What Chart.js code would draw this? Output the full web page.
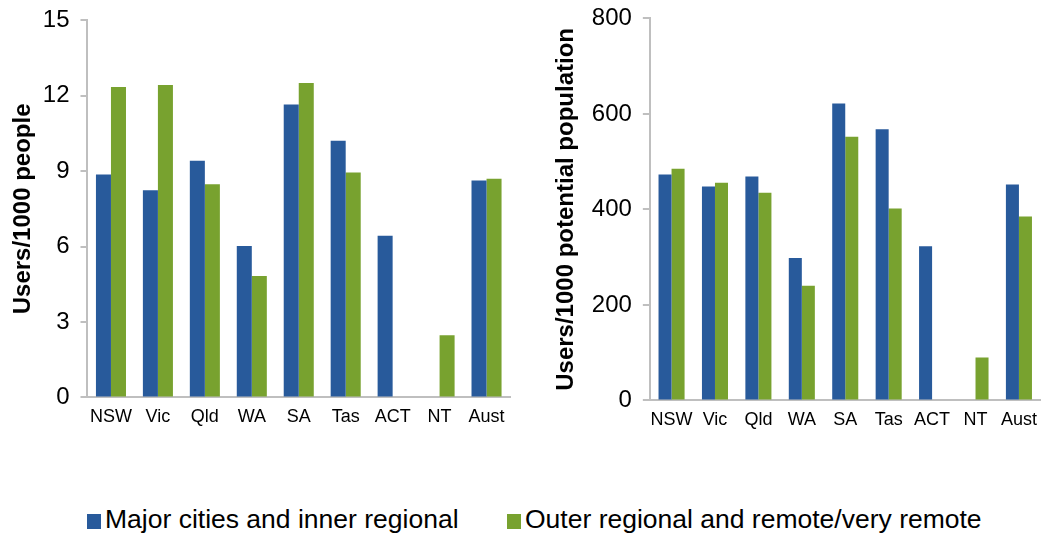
<!DOCTYPE html>
<html>
<head>
<meta charset="utf-8">
<script src="https://cdn.jsdelivr.net/npm/chart.js@4"></script>
<style>
  body { margin: 0; background: #fff; }
  #wrap { position: relative; width: 1046px; height: 535px; background: #fff; overflow: hidden; font-family: "Liberation Sans", Arial, sans-serif; }
  #leftBox { position: absolute; left: 0; top: -5px; width: 525px; height: 442px; }
  #rightBox { position: absolute; left: 530px; top: -7px; width: 516px; height: 447px; }
  .legend-item { position: absolute; top: 504px; font-size: 26.5px; color: #000; white-space: nowrap; line-height: 30px; }
  .legend-item span { display: inline-block; width: 14px; height: 15px; margin-right: 4px; vertical-align: -1px; }
</style>
</head>
<body>
<div id="wrap">
  <div id="leftBox"><canvas id="leftChart"></canvas></div>
  <div id="rightBox"><canvas id="rightChart"></canvas></div>
  <div class="legend-item" style="left:87px"><span style="background:#285A9B"></span>Major cities and inner regional</div>
  <div class="legend-item" style="left:507px"><span style="background:#78A22F"></span>Outer regional and remote/very remote</div>
</div>
<script>
// Dữ liệu
const states = ['NSW', 'Vic', 'Qld', 'WA', 'SA', 'Tas', 'ACT', 'NT', 'Aust'];
const seriesNames = ['Major cities and inner regional', 'Outer regional and remote/very remote'];

// Biểu đồ trái: Users/1000 people
const peopleMajor = [8.87, 8.24, 9.42, 6.02, 11.65, 10.21, 6.43, null, 8.63];
const peopleOuter = [12.35, 12.43, 8.48, 4.83, 12.51, 8.95, null, 2.47, 8.70];
const peopleTicks = [0, 3, 6, 9, 12, 15];

// Biểu đồ phải: Users/1000 potential population
const potentialMajor = [473, 448, 469, 298, 622, 568, 323, null, 452];
const potentialOuter = [485, 456, 435, 240, 552, 402, null, 90, 385];
const potentialTicks = [0, 200, 400, 600, 800];

const blue = '#285A9B';
const green = '#78A22F';
const axisGray = '#BFBFBF';
const font = "'Liberation Sans', Arial, sans-serif";

function makeChart(id, major, outer, ticks, yTitle, opts) {
    const ctx = document.getElementById(id).getContext('2d');
    return new Chart(ctx, {
        type: 'bar',
        data: {
            labels: states,
            datasets: [
                { label: seriesNames[0], data: major, backgroundColor: blue, barPercentage: 1, categoryPercentage: opts.catPct },
                { label: seriesNames[1], data: outer, backgroundColor: green, barPercentage: 1, categoryPercentage: opts.catPct }
            ]
        },
        options: {
            responsive: true,
            maintainAspectRatio: false,
            animation: false,
            layout: { padding: opts.padding },
            scales: {
                x: {
                    grid: { display: false, drawTicks: false },
                    border: { display: true, color: axisGray, width: 2 },
                    ticks: { color: '#000', font: { family: font, size: 18 }, padding: 9, maxRotation: 0, autoSkip: false }
                },
                y: {
                    min: ticks[0],
                    max: ticks[ticks.length - 1],
                    afterBuildTicks: (axis) => { axis.ticks = ticks.map(v => ({ value: v })); },
                    grid: { drawOnChartArea: false, drawTicks: true, tickLength: 7, color: axisGray, lineWidth: 2 },
                    border: { display: true, color: axisGray, width: 2 },
                    ticks: { color: '#000', font: { family: font, size: 24 }, padding: 11 },
                    title: {
                        display: true,
                        text: yTitle,
                        color: '#000',
                        font: { family: font, size: 24, weight: 'bold' },
                        padding: opts.titlePad
                    }
                }
            },
            plugins: {
                legend: { display: false },
                tooltip: { enabled: false }
            }
        }
    });
}

makeChart('leftChart', peopleMajor, peopleOuter, peopleTicks, 'Users/1000 people', {
    catPct: 0.64,
    padding: { left: 2, top: 10, right: 15, bottom: 0 },
    titlePad: { top: 7, bottom: -6 }
});

makeChart('rightChart', potentialMajor, potentialOuter, potentialTicks, 'Users/1000 potential population', {
    catPct: 0.6,
    padding: { left: 10, top: 10, right: 1, bottom: 0 },
    titlePad: { top: 12, bottom: 0 }
});
</script>
</body>
</html>
